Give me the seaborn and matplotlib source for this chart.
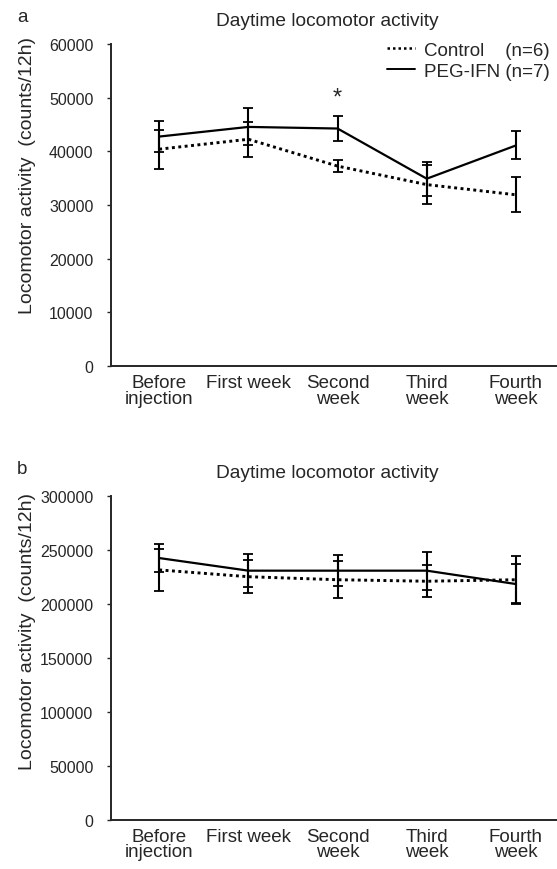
import matplotlib
matplotlib.use('Agg')
import numpy as np
import pandas as pd
import matplotlib.pyplot as plt
from matplotlib.lines import Line2D
import seaborn as sns

# Categories
weeks = ['Before\ninjection', 'First week', 'Second\nweek', 'Third\nweek', 'Fourth\nweek']
groups = ['Control', 'PEG-IFN']

# Panel a (counts/12h)
a_control = [40400, 42250, 37250, 33800, 31900]
a_control_err = [3600, 3300, 1050, 3600, 3250]
a_peg = [42750, 44550, 44250, 34900, 41100]
a_peg_err = [2850, 3450, 2250, 3150, 2600]

# Panel b (counts/12h)
b_control = [231500, 225200, 222400, 221000, 222400]
b_control_err = [19500, 15500, 17000, 15000, 22000]
b_peg = [242500, 230800, 230800, 230800, 218400]
b_peg_err = [13000, 15000, 14500, 17500, 18500]

a_ticks = [0, 10000, 20000, 30000, 40000, 50000, 60000]
b_ticks = [0, 50000, 100000, 150000, 200000, 250000, 300000]

sns.set_theme(style='ticks')
plt.rcParams['font.family'] = ['Liberation Sans', 'DejaVu Sans']


def make_df(control, peg):
    return pd.DataFrame({
        'x': list(range(len(weeks))) * 2,
        'value': control + peg,
        'group': ['Control'] * len(weeks) + ['PEG-IFN'] * len(weeks),
    })


def draw_panel(ax, control, control_err, peg, peg_err, ticks, label_y):
    df = make_df(control, peg)
    sns.lineplot(data=df, x='x', y='value', style='group', style_order=groups,
                 dashes={'Control': (1, 1.2), 'PEG-IFN': ''}, color='black',
                 linewidth=1.6, legend=False, ax=ax)
    # dotted control line a bit heavier
    ax.lines[0].set_linewidth(2.1)
    x = np.arange(len(weeks))
    ax.errorbar(x, control, yerr=control_err, fmt='none', ecolor='black',
                elinewidth=1.5, capsize=3.6, capthick=1.3)
    ax.errorbar(x, peg, yerr=peg_err, fmt='none', ecolor='black',
                elinewidth=1.5, capsize=3.6, capthick=1.3)

    ax.set_xlim(-0.54, 4.46)
    ax.set_ylim(ticks[0], ticks[-1])
    ax.set_yticks(ticks)
    ax.set_yticklabels([str(t) for t in ticks], fontsize=11.5)
    ax.set_xticks(x)
    ax.set_xticklabels(weeks, fontsize=13.5)
    for lbl in ax.get_xticklabels():
        lbl.set_linespacing(0.88)
    ax.tick_params(axis='x', length=0, pad=6)
    ax.tick_params(axis='y', length=2.7, width=1.0, pad=10, direction='out')
    ax.set_xlabel('')
    ax.set_ylabel('Locomotor activity  (counts/12h)', fontsize=14)
    ax.yaxis.set_label_coords(-0.168, label_y)
    sns.despine(ax=ax)
    ax.spines['left'].set_linewidth(1.4)
    ax.spines['bottom'].set_linewidth(1.4)
    ax.text(0.484, 1.074, 'Daytime locomotor activity', transform=ax.transAxes,
            ha='center', va='center', fontsize=13.8)


fig = plt.figure(figsize=(5.57, 8.70), dpi=100)
ax_a = fig.add_axes([111 / 557, 1 - 367 / 870, 446 / 557, 322 / 870])
ax_b = fig.add_axes([111 / 557, 1 - 820.7 / 870, 446 / 557, 323.7 / 870])

draw_panel(ax_a, a_control, a_control_err, a_peg, a_peg_err, a_ticks, 0.595)
draw_panel(ax_b, b_control, b_control_err, b_peg, b_peg_err, b_ticks, 0.585)

# significance mark on second week
ax_a.text(2, 50000, '*', ha='center', va='center', fontsize=17)

handles = [Line2D([], [], color='black', linestyle=(0, (1, 1.2)), linewidth=1.8),
           Line2D([], [], color='black', linestyle='-', linewidth=1.4)]
ax_a.legend(handles, ['Control    (n=6)', 'PEG-IFN (n=7)'], loc='upper right',
            bbox_to_anchor=(1.0, 1.03), frameon=False, fontsize=13.5,
            handlelength=1.5, handletextpad=0.45, labelspacing=0.2,
            borderaxespad=0)

fig.text(22 / 557, 1 - 18 / 870, 'a', ha='center', va='center', fontsize=13.5)
fig.text(22 / 557, 1 - 470 / 870, 'b', ha='center', va='center', fontsize=13.5)

fig.savefig('out.png', dpi=100)
